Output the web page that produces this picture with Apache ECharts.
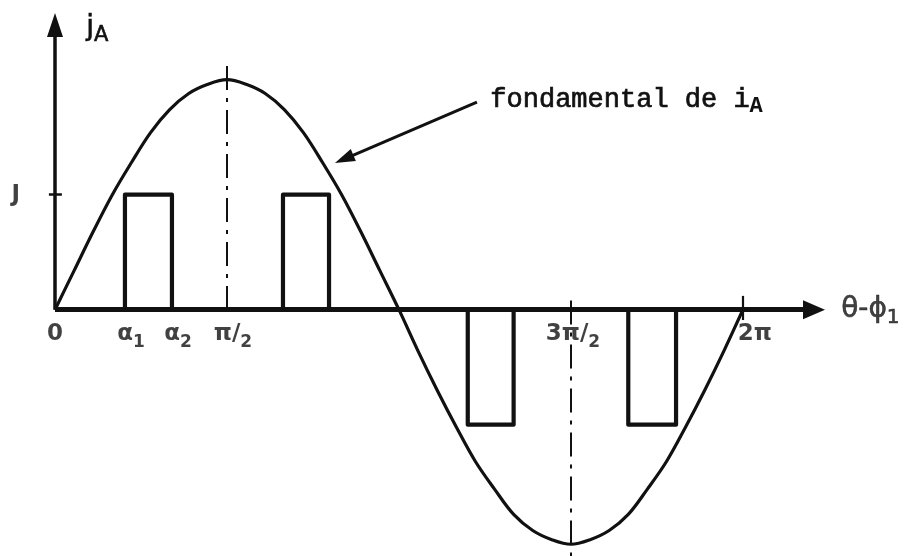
<!DOCTYPE html>
<html>
<head>
<meta charset="utf-8">
<script src="https://cdn.jsdelivr.net/npm/echarts@6/dist/echarts.min.js"></script>
<style>
  html, body { margin: 0; padding: 0; background: #fff; }
  #chart { width: 907px; height: 556px; }
</style>
</head>
<body>
<div id="chart"></div>
<script>
// Fundamental of i_A, per unit of its peak, every 10 degrees of θ-ϕ1
const fundAngles = [0, 10, 20, 30, 40, 50, 60, 70, 80, 90, 100, 110, 120, 130, 140, 150, 160, 170, 180,
                    190, 200, 210, 220, 230, 240, 250, 260, 270, 280, 290, 300, 310, 320, 330, 340, 350, 360];
const fundValues = [0, 0.17, 0.34, 0.50, 0.64, 0.77, 0.87, 0.94, 0.98, 1.00, 0.98, 0.94, 0.87, 0.77, 0.64, 0.50, 0.34, 0.17, 0,
                    -0.18, -0.35, -0.51, -0.66, -0.78, -0.89, -0.96, -1.00, -1.02, -1.00, -0.96, -0.89, -0.78, -0.66, -0.51, -0.35, -0.18, 0];

// Current pulses j_A: level J between the switching angles
const J = 0.5;
const pulseAngles = [0, 36.6, 36.6, 61.2, 61.2, 119.3, 119.3, 143.4, 143.4,
                     216, 216, 240, 240, 300, 300, 325, 325, 360];
const pulseLevels = [0, 0, J, J, 0, 0, J, J, 0,
                     0, -J, -J, 0, 0, -J, -J, 0, 0];

// Axis tick labels (angles in degrees)
const tickAngles = [0, 36.6, 61.2, 90, 270, 360];
const tickTexts = ['{m|0}', '{m|α}{s|1}', '{m|α}{s|2}', '{m|π}{m|/}{s|2}', '{m|3π}{m|/}{s|2}', '{m|2π}'];
const tickShifts = [0, 6, 6, 6, 2, 12];

const X_MAX = 403;
const Y_MAX = 1.29;
const Y_MIN = -1.071;
const INK = '#111';
const FONT = 'DejaVu Sans';

const richLabel = {
  m: { fontFamily: FONT, fontSize: 23, fontWeight: 'bold', lineHeight: 34, color: INK },
  s: { fontFamily: FONT, fontSize: 17, fontWeight: 'bold', lineHeight: 15, verticalAlign: 'bottom', color: INK }
};

function seg(a, b, style, endSymbol, endSize) {
  return [
    { coord: a, symbol: 'none' },
    { coord: b, symbol: endSymbol || 'none', symbolSize: endSize || 0, lineStyle: style }
  ];
}

const chart = echarts.init(document.getElementById('chart'), null, { renderer: 'canvas' });

chart.setOption({
  backgroundColor: '#fff',
  animation: false,
  grid: { left: 1.5, right: 81.9, top: 13, bottom: 0 },
  xAxis: { type: 'value', min: -28, max: X_MAX, show: false },
  yAxis: { type: 'value', min: Y_MIN, max: Y_MAX, show: false },
  graphic: [
    {
      type: 'text', left: 86, top: 13, silent: true,
      style: {
        text: '{m|j}{s|A}',
        rich: {
          m: { fontFamily: FONT, fontSize: 28, lineHeight: 38, fill: INK, stroke: INK, lineWidth: 0.6 },
          s: { fontFamily: FONT, fontSize: 21, lineHeight: 18, verticalAlign: 'bottom', fill: INK, stroke: INK, lineWidth: 0.6 }
        }
      }
    },
    {
      type: 'text', left: 490, top: 86, silent: true,
      style: {
        text: '{m|fondamental de i}{s|A}',
        rich: {
          m: { fontFamily: 'Liberation Mono', fontSize: 27, lineHeight: 36, fill: INK, stroke: INK, lineWidth: 0.7 },
          s: { fontFamily: 'Liberation Mono', fontSize: 22, fontWeight: 'bold', lineHeight: 16, verticalAlign: 'bottom', fill: INK }
        }
      }
    }
  ],
  series: [
    {
      name: 'fondamental',
      type: 'line',
      data: fundAngles.map((a, i) => [a, fundValues[i]]),
      smooth: 0.35,
      showSymbol: false,
      lineStyle: { color: INK, width: 3.2 },
      silent: true,
      z: 3
    },
    {
      name: 'jA',
      type: 'line',
      data: pulseAngles.map((a, i) => [a, pulseLevels[i]]),
      showSymbol: false,
      lineStyle: { color: INK, width: 4.2, join: 'round' },
      silent: true,
      z: 4,
      markLine: {
        silent: true,
        symbol: ['none', 'none'],
        label: { show: false },
        emphasis: { disabled: true },
        lineStyle: { color: INK, type: 'solid' },
        data: [
          // horizontal axis with arrow
          seg([0, 0], [397.2, 0], { color: INK, width: 5, type: 'solid' }, 'triangle', [19, 22]),
          // vertical axis with arrow
          seg([0, 0], [0, Y_MAX - 12 / 230], { color: INK, width: 3.5, type: 'solid' }, 'triangle', [16, 24]),
          // tick at J
          seg([-3.2, J], [3.6, J], { color: INK, width: 2.5, type: 'solid' }),
          // dash-dot at π/2
          seg([90, 1.06], [90, -0.02], { color: INK, width: 2, type: [24, 8, 4, 8] }),
          // dash-dot at 3π/2
          seg([270, 0.04], [270, Y_MIN], { color: INK, width: 2, type: [24, 8, 4, 8] }),
          // tick at 2π
          seg([360, 0.06], [360, -0.045], { color: INK, width: 2.2, type: 'solid' }),
          // pointer to the fundamental
          seg([220.8, 0.903], [151.3, 0.655], { color: INK, width: 3, type: 'solid' }, 'triangle', [13, 20])
        ]
      }
    },
    {
      name: 'ticks',
      type: 'scatter',
      symbolSize: 0.1,
      itemStyle: { color: 'rgba(0,0,0,0)' },
      silent: true,
      z: 5,
      data: tickAngles.map((a, i) => ({
        value: [a, 0],
        label: {
          show: true, position: 'bottom', distance: 7, color: INK,
          offset: [tickShifts[i], 0],
          formatter: tickTexts[i], rich: richLabel
        }
      })).concat([
        {
          value: [0, J],
          label: { show: true, position: 'left', distance: 35, color: INK, formatter: '{m|J}', rich: richLabel }
        },
        {
          value: [X_MAX, 0],
          label: {
            show: true, position: 'right', distance: 16, color: INK, formatter: '{m|θ-ϕ}{s|1}',
            rich: {
              m: { fontFamily: FONT, fontSize: 28, lineHeight: 36, color: INK, textBorderColor: INK, textBorderWidth: 0.6 },
              s: { fontFamily: FONT, fontSize: 20, lineHeight: 17, verticalAlign: 'bottom', color: INK, textBorderColor: INK, textBorderWidth: 0.6 }
            }
          }
        }
      ])
    }
  ]
});
</script>
</body>
</html>
